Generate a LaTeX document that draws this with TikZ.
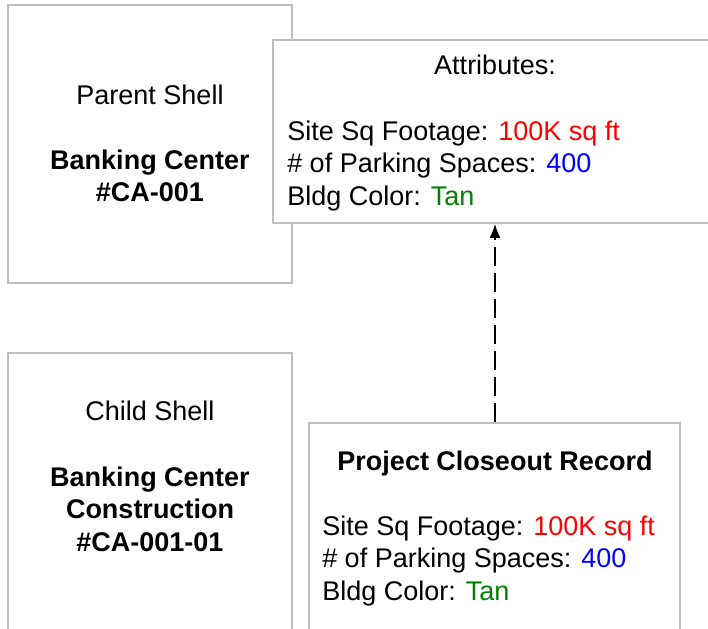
\documentclass[tikz,border=0pt]{standalone}
\usepackage{fontspec}
\setmainfont{Liberation Sans}
\usetikzlibrary{positioning, arrows, arrows.meta}
\definecolor{boxgray}{RGB}{190,190,190}
\definecolor{valred}{RGB}{255,0,0}
\definecolor{valblue}{RGB}{0,0,255}
\definecolor{valgreen}{RGB}{0,128,0}

\begin{document}
\begin{tikzpicture}[x=1pt, y=-1pt, line width=1.5pt,
        shell/.style={draw=boxgray, rectangle, fill=white, inner sep=0pt},
        txt/.style={font=\fontsize{27}{32.5}\selectfont, inner sep=0pt, anchor=base},
        lines/.style={txt, align=left, anchor=north west}]
        \clip (0,0) rectangle (708,628);
        \useasboundingbox (0,0) rectangle (708,628);

        % shells
        \node[shell, minimum width=284pt, minimum height=278pt] (parent) at (150,144) {};
        \node[shell, minimum width=450pt, minimum height=183pt] (attr) at (498,131.5) {};
        \node[shell, minimum width=284pt, minimum height=300pt] (child) at (150,503) {};
        \node[shell, minimum width=371pt, minimum height=240pt] (pcr) at (494.5,543) {};

        % parent text
        \node[txt] (ptitle) at (150,105) {Parent Shell};
        \node[txt, font=\fontsize{27}{32.5}\selectfont\bfseries, align=center, anchor=north] (pname) at (150,149) {Banking Center\\\#CA-001};

        % attributes
        \node[txt] (atitle) at (495,75) {Attributes:};
        \node[lines] (alist) at (286.5,120) {Site Sq Footage: \textcolor{valred}{100K sq ft}\\
            \# of Parking Spaces: \textcolor{valblue}{400}\\
            Bldg Color: \textcolor{valgreen}{Tan}};

        % child text
        \node[txt] (ctitle) at (150,420) {Child Shell};
        \node[txt, font=\fontsize{27}{32.5}\selectfont\bfseries, align=center, anchor=north] (cname) at (150,466) {Banking Center\\Construction\\\#CA-001-01};

        % closeout record
        \node[txt, font=\fontsize{27}{32.5}\selectfont\bfseries] (rtitle) at (495,470) {Project Closeout Record};
        \node[lines] (rlist) at (321.5,515) {Site Sq Footage: \textcolor{valred}{100K sq ft}\\
            \# of Parking Spaces: \textcolor{valblue}{400}\\
            Bldg Color: \textcolor{valgreen}{Tan}};

        \draw[-{Latex[length=14pt, width=11pt]}, dash pattern=on 19pt off 7pt, line width=2pt] (pcr.north -| atitle) -- (attr.south -| atitle);
\end{tikzpicture}
\end{document}
